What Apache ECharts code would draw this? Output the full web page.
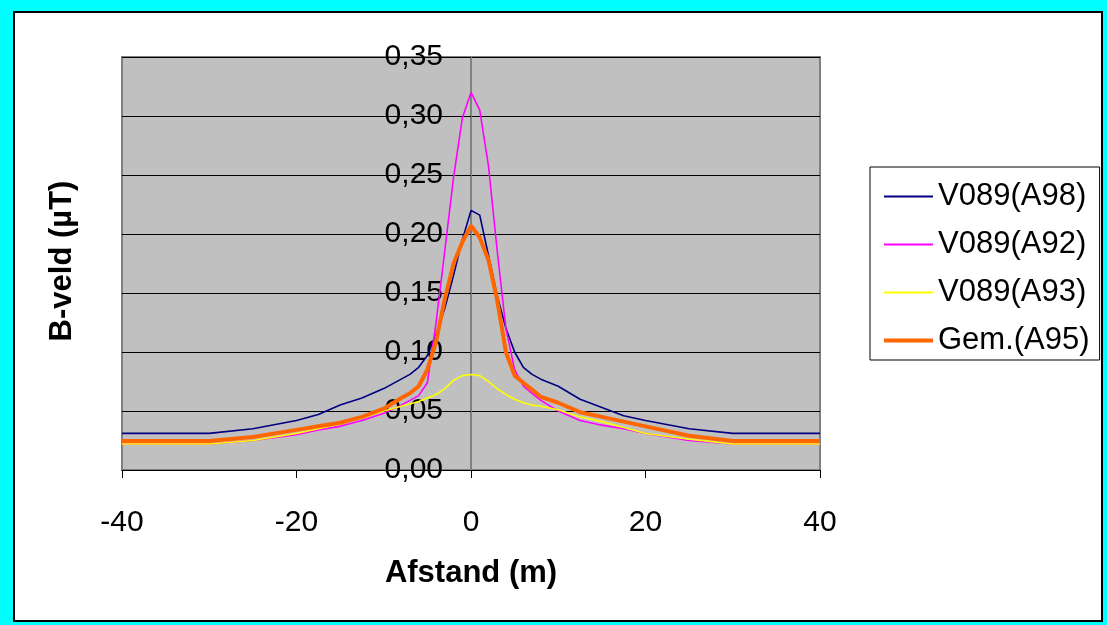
<!DOCTYPE html>
<html>
<head>
<meta charset="utf-8">
<script src="https://cdn.jsdelivr.net/npm/echarts@6/dist/echarts.min.js"></script>
<style>
html,body{margin:0;padding:0;background:#00FFFF;}
#chart{width:1107px;height:625px;}
</style>
</head>
<body>
<div id="chart"></div>
<script>
// Data (distance in m, field in µT)
var distances = [-40, -30, -25, -20, -17.5, -15, -12.5, -10, -8, -7, -6, -5, -4, -3, -2, -1, 0, 1, 2, 3, 4, 5, 6, 7, 8, 10, 12.5, 15, 17.5, 20, 25, 30, 40];
var seriesNames = ['V089(A98)', 'V089(A92)', 'V089(A93)', 'Gem.(A95)'];
var valuesA98 = [0.031, 0.031, 0.035, 0.042, 0.047, 0.055, 0.061, 0.069, 0.077, 0.081, 0.087, 0.097, 0.115, 0.137, 0.165, 0.195, 0.220, 0.216, 0.182, 0.148, 0.120, 0.100, 0.087, 0.081, 0.077, 0.071, 0.060, 0.053, 0.046, 0.042, 0.035, 0.031, 0.031];
var valuesA92 = [0.022, 0.022, 0.025, 0.030, 0.034, 0.037, 0.042, 0.048, 0.055, 0.059, 0.063, 0.074, 0.125, 0.186, 0.248, 0.298, 0.320, 0.305, 0.258, 0.186, 0.120, 0.085, 0.071, 0.065, 0.059, 0.050, 0.042, 0.038, 0.035, 0.031, 0.025, 0.022, 0.022];
var valuesA93 = [0.022, 0.022, 0.025, 0.031, 0.035, 0.039, 0.044, 0.050, 0.054, 0.056, 0.058, 0.061, 0.064, 0.069, 0.076, 0.080, 0.081, 0.080, 0.075, 0.069, 0.064, 0.060, 0.057, 0.055, 0.054, 0.051, 0.045, 0.041, 0.036, 0.031, 0.026, 0.022, 0.022];
var valuesA95 = [0.0246, 0.0246, 0.028, 0.034, 0.037, 0.040, 0.045, 0.052, 0.061, 0.065, 0.071, 0.085, 0.109, 0.145, 0.175, 0.193, 0.207, 0.197, 0.178, 0.144, 0.100, 0.080, 0.074, 0.068, 0.062, 0.057, 0.049, 0.045, 0.041, 0.037, 0.029, 0.0246, 0.0246];
var xTicks = {min: -40, max: 40, interval: 20};
var yTicks = {min: 0, max: 0.35, interval: 0.05};

function pairs(vals) {
  return distances.map(function (d, i) { return [d, vals[i]]; });
}
var colors = ['#000080', '#FF00FF', '#FFFF00', '#FF6600'];
var widths = [1.6, 1.6, 1.6, 4];
var allValues = [valuesA98, valuesA92, valuesA93, valuesA95];

var FONT = '"Liberation Sans", Arial, sans-serif';
var GRID_LEFT = 122, GRID_RIGHT = 287;
var chart = echarts.init(document.getElementById('chart'), null, {renderer: 'canvas'});
var plotWidth = 1107 - GRID_LEFT - GRID_RIGHT;
// place the y axis at x = 0 (offset is negative => inward)
var yAxisOffset = -plotWidth * (0 - xTicks.min) / (xTicks.max - xTicks.min);

chart.setOption({
  backgroundColor: '#00FFFF',
  animation: false,
  graphic: [
    {type: 'rect', z: -100, shape: {x: 14, y: 12, width: 1088, height: 609},
     style: {fill: '#FFFFFF', stroke: '#000000', lineWidth: 2}},
    {type: 'text', x: 62, y: 261, rotation: Math.PI / 2,
     style: {text: 'B-veld (µT)', font: 'bold 31px ' + FONT, fill: '#000', textAlign: 'center', textVerticalAlign: 'middle'}}
  ],
  grid: {left: GRID_LEFT, top: 57, right: GRID_RIGHT, bottom: 155, show: true,
         backgroundColor: '#C0C0C0', borderColor: '#808080', borderWidth: 2,
         containLabel: false, outerBoundsMode: 'none'},
  legend: {
    orient: 'vertical', left: 870, top: 167,
    backgroundColor: '#FFFFFF', borderColor: '#000000', borderWidth: 1,
    padding: [14, 10, 4, 12], itemGap: 17, itemWidth: 49, itemHeight: 14, itemTextGap: 9,
    itemStyle: {opacity: 0},
    textStyle: {fontFamily: FONT, fontSize: 31, color: '#000', lineHeight: 30},
    data: seriesNames.map(function (n, i) {
      return {name: n, lineStyle: {width: widths[i] > 2 ? 4 : 2, color: colors[i]}};
    })
  },
  xAxis: {
    type: 'value', min: xTicks.min, max: xTicks.max, interval: xTicks.interval,
    name: 'Afstand (m)', nameLocation: 'middle', nameGap: 88,
    nameTextStyle: {fontFamily: FONT, fontSize: 31, fontWeight: 'bold', color: '#000'},
    axisLine: {onZero: false, lineStyle: {color: '#000', width: 1}},
    axisTick: {show: true, inside: false, length: 8, lineStyle: {color: '#000'}},
    axisLabel: {fontFamily: FONT, fontSize: 30, color: '#000', margin: 38},
    splitLine: {show: false}
  },
  yAxis: {
    type: 'value', min: yTicks.min, max: yTicks.max, interval: yTicks.interval,
    offset: yAxisOffset,
    axisLine: {show: true, onZero: false, lineStyle: {color: '#808080', width: 2}},
    axisTick: {show: true, inside: false, length: 7, lineStyle: {color: '#000'}},
    axisLabel: {fontFamily: FONT, fontSize: 30, color: '#000', margin: 28,
                formatter: function (v) { return v.toFixed(2).replace('.', ','); }},
    splitLine: {show: true, lineStyle: {color: '#000', width: 1}}
  },
  series: seriesNames.map(function (n, i) {
    return {
      name: n, type: 'line', data: pairs(allValues[i]),
      symbol: 'none', showSymbol: false, smooth: false,
      color: colors[i],
      lineStyle: {color: colors[i], width: widths[i]},
      z: 3 + i
    };
  })
});
</script>
</body>
</html>
